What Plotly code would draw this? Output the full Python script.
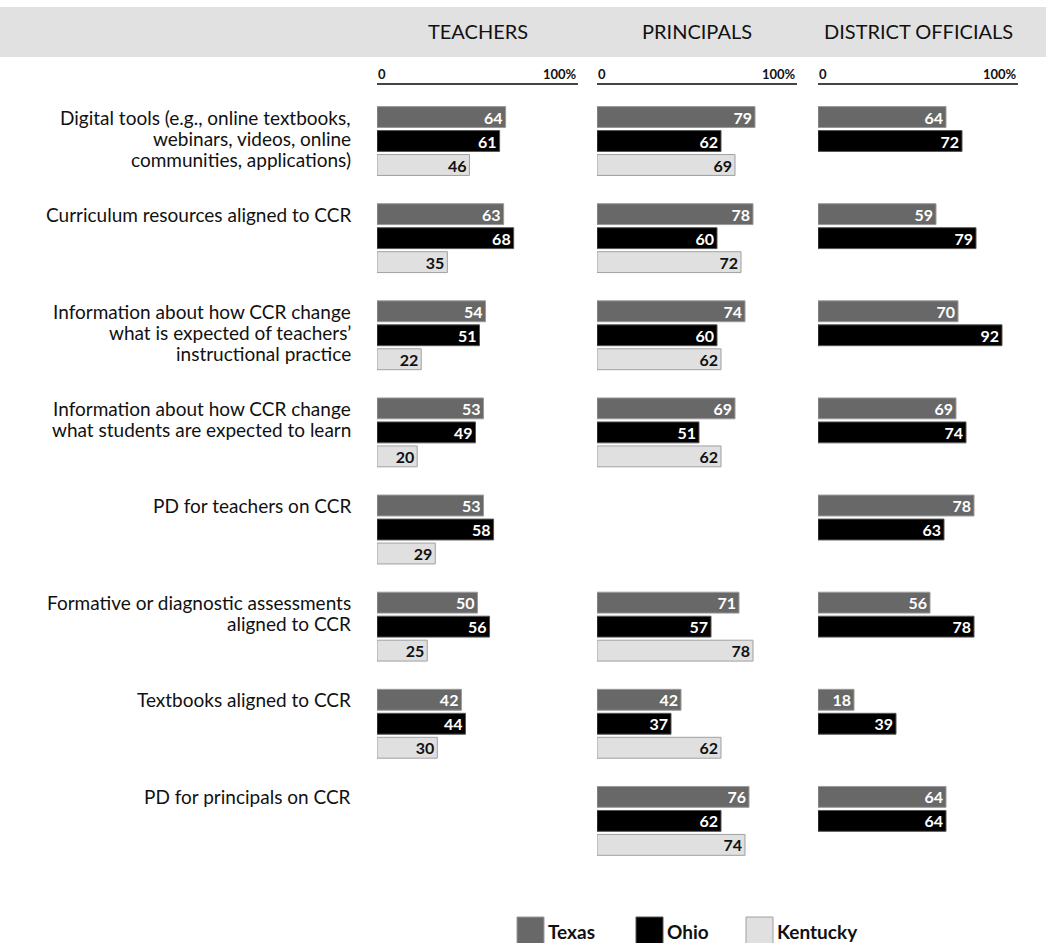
import plotly.graph_objects as go

categories = [
    "Digital tools (e.g., online textbooks,<br>webinars, videos, online<br>communities, applications)",
    "Curriculum resources aligned to CCR",
    "Information about how CCR change<br>what is expected of teachers’<br>instructional practice",
    "Information about how CCR change<br>what students are expected to learn",
    "PD for teachers on CCR",
    "Formative or diagnostic assessments<br>aligned to CCR",
    "Textbooks aligned to CCR",
    "PD for principals on CCR",
]
panels = ["TEACHERS", "PRINCIPALS", "DISTRICT OFFICIALS"]
states = ["Texas", "Ohio", "Kentucky"]
tick_labels = ["0", "100%"]

teachers_texas = [64, 63, 54, 53, 53, 50, 42, None]
teachers_ohio = [61, 68, 51, 49, 58, 56, 44, None]
teachers_kentucky = [46, 35, 22, 20, 29, 25, 30, None]

principals_texas = [79, 78, 74, 69, None, 71, 42, 76]
principals_ohio = [62, 60, 60, 51, None, 57, 37, 62]
principals_kentucky = [69, 72, 62, 62, None, 78, 62, 74]

district_texas = [64, 59, 70, 69, 78, 56, 18, 64]
district_ohio = [72, 79, 92, 74, 63, 78, 39, 64]
district_kentucky = [None] * 8

panel_data = [
    [teachers_texas, teachers_ohio, teachers_kentucky],
    [principals_texas, principals_ohio, principals_kentucky],
    [district_texas, district_ohio, district_kentucky],
]

W, H = 1046, 943
FONT = "Lato"
fill_colors = ["#686868", "#000000", "#e0e0e0"]
line_colors = ["#9a9a9a", "#555555", "#a0a0a0"]
text_colors = ["white", "white", "#111111"]
offsets = [-0.355, -0.108, 0.139]
bar_w = 0.215
PX_PER_CAT = (869.5 - 92.5) / 8

domains_px = [(377, 578), (597, 797), (818, 1018)]
axis_names = ["x", "x2", "x3"]

fig = go.Figure()
cat_idx = list(range(len(categories)))
for p, series in enumerate(panel_data):
    for s, vals in enumerate(series):
        fig.add_trace(go.Bar(
            x=vals, y=cat_idx, orientation="h",
            xaxis=axis_names[p], yaxis="y",
            offset=offsets[s], width=bar_w,
            marker=dict(color=fill_colors[s], line=dict(color=line_colors[s], width=1)),
            text=[("" if v is None else str(v)) for v in vals],
            textposition="inside", insidetextanchor="end",
            insidetextfont=dict(family=FONT, size=16, color=text_colors[s], weight="bold"),
            textangle=0, constraintext="none",
            name=states[s], showlegend=False, hoverinfo="skip",
        ))

layout = dict(
    width=W, height=H, margin=dict(l=0, r=0, t=0, b=0),
    paper_bgcolor="white", plot_bgcolor="white",
    barmode="overlay", showlegend=False,
    font=dict(family=FONT, color="#111111"),
    yaxis=dict(domain=[(H - 869.5) / H, (H - 92.5) / H], range=[7.5, -0.5],
               showticklabels=False, showgrid=False, zeroline=False, showline=False, ticks=""),
)
for p, (a, b) in enumerate(domains_px):
    key = "xaxis" if p == 0 else f"xaxis{p + 1}"
    layout[key] = dict(domain=[a / W, b / W], range=[0, 100], anchor="y",
                       showticklabels=False, showgrid=False, zeroline=False,
                       showline=False, ticks="")
fig.update_layout(**layout)

shapes = []
annotations = []
# header band
shapes.append(dict(type="rect", xref="paper", yref="paper", x0=0, x1=1,
                   y0=1 - 57 / H, y1=1 - 7 / H, fillcolor="#e1e1e1", line=dict(width=0), layer="below"))
for p, (a, b) in enumerate(domains_px):
    annotations.append(dict(xref="paper", yref="paper", x=(a + b) / 2 / W, y=1 - 31 / H,
                            text=panels[p], showarrow=False, xanchor="center", yanchor="middle",
                            font=dict(family=FONT, size=20, color="#111111")))
    xr = axis_names[p]
    shapes.append(dict(type="line", xref=xr, yref="paper", x0=0, x1=100,
                       y0=1 - 84 / H, y1=1 - 84 / H, line=dict(color="#444444", width=2)))
    annotations.append(dict(xref=xr, yref="paper", x=0, y=1 - 84 / H, text=tick_labels[0],
                            showarrow=False, xanchor="left", yanchor="bottom", xshift=-1,
                            font=dict(family=FONT, size=13, color="#111111", weight="bold")))
    annotations.append(dict(xref=xr, yref="paper", x=100, y=1 - 84 / H, text=tick_labels[1],
                            showarrow=False, xanchor="right", yanchor="bottom", xshift=1,
                            font=dict(family=FONT, size=13, color="#111111", weight="bold")))

# category labels (one annotation per line for tight line spacing)
texas_center_shift = -(offsets[0] + bar_w / 2) * PX_PER_CAT
for i, c in enumerate(categories):
    for k, line in enumerate(c.split("<br>")):
        annotations.append(dict(xref="paper", yref="y", x=353 / W, y=i, text=line,
                                showarrow=False, xanchor="right", yanchor="middle", align="right",
                                yshift=texas_center_shift - 21 * k,
                                font=dict(family=FONT, size=19, color="#111111")))

# legend
leg_sq = [517, 636, 746]
for s, name in enumerate(states):
    shapes.append(dict(type="rect", xref="paper", yref="paper",
                       x0=leg_sq[s] / W, x1=(leg_sq[s] + 27) / W,
                       y0=1 - 945 / H, y1=1 - 917 / H,
                       fillcolor=fill_colors[s], line=dict(color=line_colors[s], width=1)))
    annotations.append(dict(xref="paper", yref="paper", x=(leg_sq[s] + 29) / W, y=1 - 931 / H,
                            text=name, showarrow=False, xanchor="left", yanchor="middle",
                            font=dict(family=FONT, size=19, color="#111111", weight="bold")))

fig.update_layout(shapes=shapes, annotations=annotations)
fig.write_html("out.html")
